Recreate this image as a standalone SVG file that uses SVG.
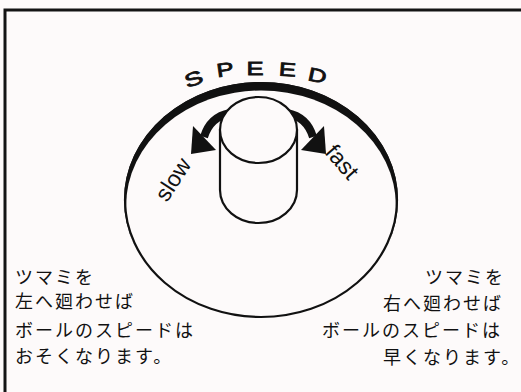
<svg xmlns="http://www.w3.org/2000/svg" width="521" height="392" viewBox="0 0 521 392">
  <style>
    .frame { fill: none; stroke: #141414; stroke-width: 3; }
    .line { fill: none; stroke: #111; stroke-width: 2.2; }
    .knob { fill: #fdfafa; stroke: #111; stroke-width: 2.2; }
    .ink { fill: #111; }
    .logo { font-family: "Liberation Sans", "DejaVu Sans", sans-serif; font-size: 19px; fill: #111; stroke: #111; stroke-width: 0.8; text-anchor: middle; }
    .label { font-family: "Liberation Sans", Arial, sans-serif; font-size: 23px; fill: #111; }
    .jp { font-family: "Noto Sans CJK JP", "Noto Sans", sans-serif; font-size: 18px; fill: #111; letter-spacing: 2px; }
  </style>

  <rect width="521" height="392" fill="#fdfafa"/>

  <!-- outer frame: only top and left edges fall inside the view -->
  <path class="frame" d="M5,392 V10 H521"/>

  <!-- dial plate with heavier rim on top -->
  <g id="dial">
    <ellipse cx="261" cy="200" rx="137" ry="118" fill="#111"/>
    <ellipse cx="261" cy="206.5" rx="135" ry="116" fill="#fdfafa"/>
    <ellipse class="line" cx="261" cy="200" rx="136" ry="117"/>
  </g>

  <!-- SPEED lettering around the rim -->
  <g id="speed-title">
    <text class="logo" transform="translate(196,85) rotate(-20) scale(1.45,1)">S</text>
    <text class="logo" transform="translate(226,76) rotate(-8) scale(1.35,1)">P</text>
    <text class="logo" transform="translate(255,75) rotate(0) scale(1.35,1)">E</text>
    <text class="logo" transform="translate(287,76) rotate(4) scale(1.35,1)">E</text>
    <text class="logo" transform="translate(316,82) rotate(12) scale(1.35,1)">D</text>
  </g>

  <!-- rotation arrows -->
  <g id="connectors">
    <g id="arrow-slow">
      <path d="M230,113 Q210,117 204,137" fill="none" stroke="#111" stroke-width="8"/>
      <polygon class="ink" points="193,126 191,154 216,150"/>
    </g>
    <g id="arrow-fast">
      <path d="M287,113 Q307,117 313,137" fill="none" stroke="#111" stroke-width="8"/>
      <polygon class="ink" points="324,126 326,154 301,150"/>
    </g>
  </g>

  <!-- knob cylinder -->
  <g id="knob">
    <path class="knob" d="M220,130 V190 A38.5,33 0 0 0 297,190 V130 Z"/>
    <ellipse class="knob" cx="258.5" cy="130" rx="38.5" ry="33"/>
  </g>

  <g id="label-slow">
    <text class="label" transform="translate(167,203) rotate(-57)">slow</text>
  </g>
  <g id="label-fast">
    <text class="label" transform="translate(324,153) rotate(49)">fast</text>
  </g>

  <g id="note-left">
    <text class="jp" x="15" y="284">ツマミを</text>
    <text class="jp" x="15" y="308">左へ廻わせば</text>
    <text class="jp" x="15" y="337">ボールのスピードは</text>
    <text class="jp" x="15" y="363">おそくなります。</text>
  </g>

  <g id="note-right">
    <text class="jp" x="425" y="284">ツマミを</text>
    <text class="jp" x="383" y="310">右へ廻わせば</text>
    <text class="jp" x="322" y="337">ボールのスピードは</text>
    <text class="jp" x="383" y="364">早くなります。</text>
  </g>
</svg>
